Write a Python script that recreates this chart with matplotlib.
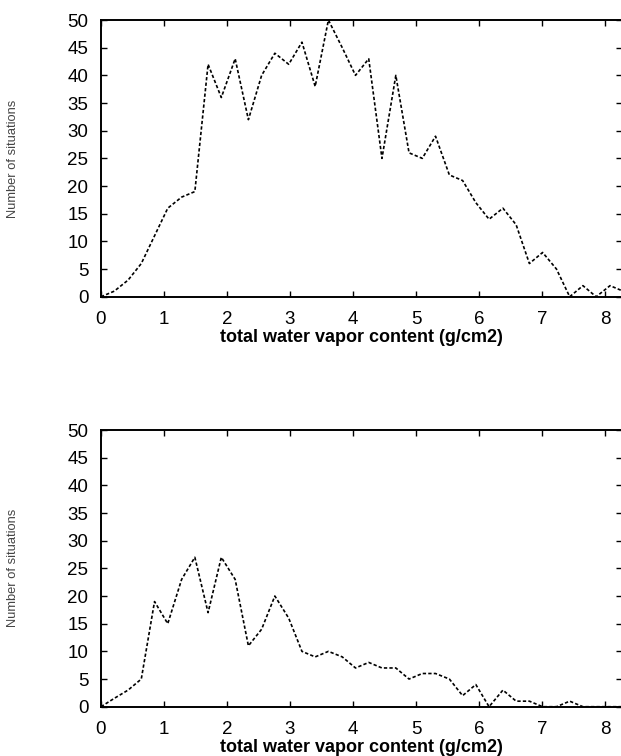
import numpy as np
import matplotlib
matplotlib.use('Agg')
import matplotlib.pyplot as plt

plt.rcParams['font.family'] = ['Liberation Sans', 'DejaVu Sans']

# bin positions (g/cm2)
vapor = [0.00, 0.21, 0.43, 0.64, 0.85, 1.06, 1.28, 1.49, 1.70, 1.91,
         2.13, 2.34, 2.55, 2.76, 2.98, 3.19, 3.40, 3.61, 3.83, 4.04,
         4.25, 4.46, 4.68, 4.89, 5.10, 5.31, 5.53, 5.74, 5.95, 6.16,
         6.38, 6.59, 6.80, 7.01, 7.23, 7.44, 7.65, 7.86, 8.08, 8.29]

# number of situations, upper panel
count_top = [0, 1, 3, 6, 11, 16, 18, 19, 42, 36,
             43, 32, 40, 44, 42, 46, 38, 50, 45, 40,
             43, 25, 40, 26, 25, 29, 22, 21, 17, 14,
             16, 13, 6, 8, 5, 0, 2, 0, 2, 1]

# number of situations, lower panel
count_bot = [0, 1.5, 3, 5, 19, 15, 23, 27, 17, 27,
             23, 11, 14, 20, 16, 10, 9, 10, 9, 7,
             8, 7, 7, 5, 6, 6, 5, 2, 4, 0,
             3, 1, 1, 0, 0, 1, 0, 0, 0, 0]

yticks = [0, 5, 10, 15, 20, 25, 30, 35, 40, 45, 50]
xticks = [0, 1, 2, 3, 4, 5, 6, 7, 8]

fig = plt.figure(figsize=(6.21, 7.56), dpi=100)
ax1 = fig.add_axes([0.1626, 0.6075, 0.8390, 0.3660])
ax2 = fig.add_axes([0.1626, 0.0652, 0.8390, 0.3660])

for ax, counts in [(ax1, count_top), (ax2, count_bot)]:
    ax.plot(vapor, counts, color='black', lw=1.2, linestyle=(0, (2.0, 1.3)))
    ax.set_xlim(0, 8.27)
    ax.set_ylim(0, 50)
    ax.set_xticks(xticks)
    ax.set_yticks(yticks)
    ax.tick_params(direction='in', length=4, width=1.0, top=True, right=True,
                   labelsize=13.5, colors='black')
    ax.tick_params(axis='x', pad=10)
    ax.tick_params(axis='y', pad=9)
    for s in ax.spines.values():
        s.set_linewidth(1.4)
    ax.set_xlabel('total water vapor content (g/cm2)', fontsize=13,
                  fontweight='bold', labelpad=1)
    ax.set_ylabel('Number of situations', fontsize=9.3, color='#444444',
                  labelpad=35)

fig.savefig('out.png', dpi=100)
